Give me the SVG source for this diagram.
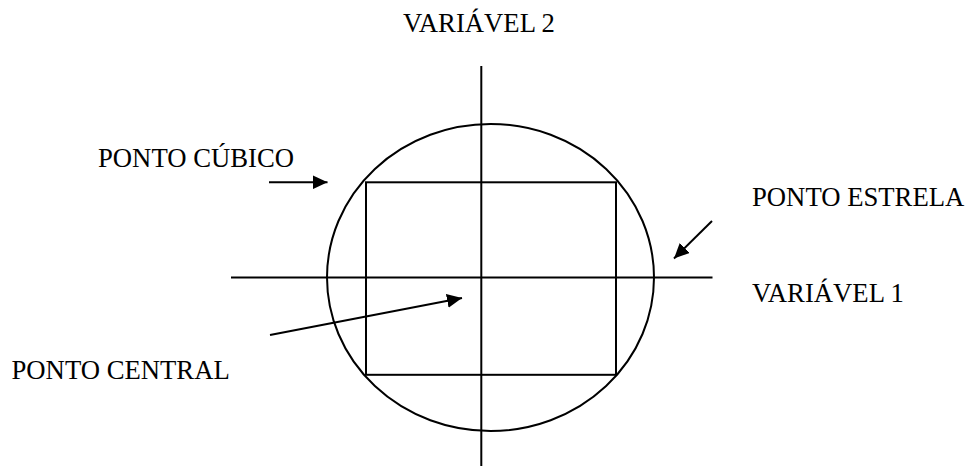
<svg xmlns="http://www.w3.org/2000/svg" width="965" height="466" viewBox="0 0 965 466">
<style>
.ln{stroke:#000;stroke-width:2;fill:none}
.lbl{font-family:"Liberation Serif","Times New Roman",serif;font-size:26.7px;fill:#000}
</style>
<defs>
<marker id="ah" viewBox="0 0 15 14" markerWidth="15" markerHeight="14" markerUnits="userSpaceOnUse" refX="15" refY="7" orient="auto">
<path d="M0,0 L15,7 L0,14 Z" fill="#000"/>
</marker>
</defs>
<rect width="965" height="466" fill="#fff"/>
<g id="axes">
<line class="ln" x1="481.3" y1="66" x2="481.3" y2="466"/>
<line class="ln" x1="231" y1="277.5" x2="712.5" y2="277.5"/>
</g>
<g id="circle">
<ellipse class="ln" cx="490.5" cy="277.5" rx="163.5" ry="153.5"/>
</g>
<g id="square">
<rect class="ln" x="366" y="182.3" width="250" height="192.5"/>
</g>
<g id="connectors">
<line class="ln" x1="269" y1="182.3" x2="327.5" y2="182.3" marker-end="url(#ah)"/>
<line class="ln" x1="712" y1="221" x2="674" y2="258.5" marker-end="url(#ah)"/>
<line class="ln" x1="270" y1="335" x2="462" y2="298" marker-end="url(#ah)"/>
</g>
<g id="label-var2"><text class="lbl" x="403" y="32.3">VARIÁVEL 2</text></g>
<g id="label-cubico"><text class="lbl" x="98" y="167.3">PONTO CÚBICO</text></g>
<g id="label-estrela"><text class="lbl" x="752" y="206">PONTO ESTRELA</text></g>
<g id="label-var1"><text class="lbl" x="752" y="301.7">VARIÁVEL 1</text></g>
<g id="label-central"><text class="lbl" x="11.5" y="379.3">PONTO CENTRAL</text></g>
</svg>
